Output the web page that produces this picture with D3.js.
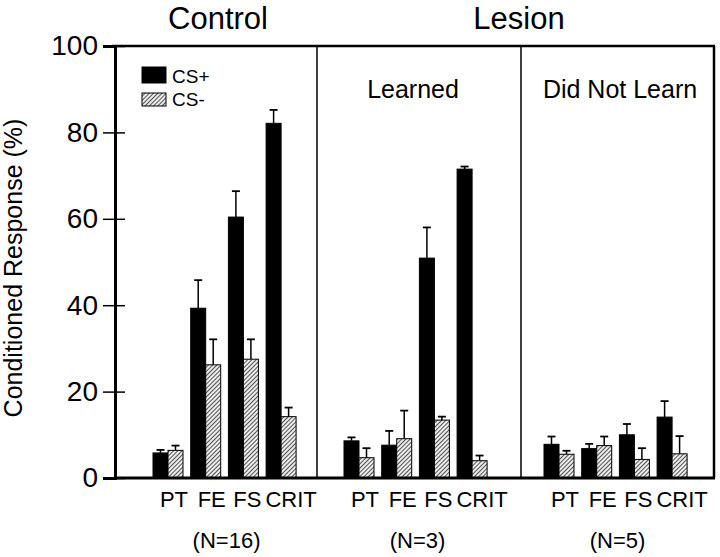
<!DOCTYPE html>
<html>
<head>
<meta charset="utf-8">
<script src="https://cdn.jsdelivr.net/npm/d3@7"></script>
<style>
  html, body { margin: 0; padding: 0; background: #fff; }
  svg { display: block; font-family: "Liberation Sans", Arial, Helvetica, sans-serif; }
</style>
</head>
<body>
<svg id="chart" width="720" height="557"></svg>
<script>
// ---- Data ----
const categories = ["PT", "FE", "FS", "CRIT"];
const seriesNames = ["CS+", "CS-"];
const panelNames = ["Control", "Learned", "Did Not Learn"];
const panelN = ["(N=16)", "(N=3)", "(N=5)"];
const yTicks = [0, 20, 40, 60, 80, 100];

const controlCSplus     = [5.8, 39.3, 60.4, 82.1];
const controlCSplusErr  = [0.7, 6.5, 6.0, 3.1];
const controlCSminus    = [6.4, 26.2, 27.5, 14.2];
const controlCSminusErr = [1.1, 5.9, 4.6, 2.1];

const learnedCSplus     = [8.6, 7.6, 50.9, 71.5];
const learnedCSplusErr  = [0.8, 3.3, 7.1, 0.6];
const learnedCSminus    = [4.7, 9.1, 13.4, 4.0];
const learnedCSminusErr = [2.2, 6.5, 0.8, 1.2];

const dnlCSplus         = [7.8, 6.8, 10.0, 14.1];
const dnlCSplusErr      = [1.8, 1.1, 2.5, 3.7];
const dnlCSminus        = [5.5, 7.5, 4.3, 5.6];
const dnlCSminusErr     = [0.8, 2.1, 2.6, 4.1];

// ---- Layout ----
const frame = { left: 115, right: 714, top: 46, bottom: 478 };
const dividers = [317, 521];
const groupStarts = [153, 344, 544];
const groupStep = 37.7, barW = 15;
const labelNudge = [0, 0, -2, 4];

const svg = d3.select("#chart");
const y = d3.scaleLinear().domain([0, 100]).range([frame.bottom, frame.top]);

// hatch pattern
const defs = svg.append("defs");
const pat = defs.append("pattern").attr("id", "hatch")
  .attr("patternUnits", "userSpaceOnUse").attr("width", 3).attr("height", 3)
  .attr("patternTransform", "rotate(45)");
pat.append("rect").attr("width", 3).attr("height", 3).attr("fill", "#ececec");
pat.append("line").attr("x1", 0).attr("y1", 0).attr("x2", 0).attr("y2", 3)
  .attr("stroke", "#111").attr("stroke-width", 1.4);

const panelData = [
  [controlCSplus, controlCSplusErr, controlCSminus, controlCSminusErr],
  [learnedCSplus, learnedCSplusErr, learnedCSminus, learnedCSminusErr],
  [dnlCSplus, dnlCSplusErr, dnlCSminus, dnlCSminusErr]
];

panelData.forEach((pd, pi) => {
  const start = groupStarts[pi];
  const x = d3.scaleBand().domain(categories)
    .range([start, start + 4 * groupStep - (groupStep - 2 * barW)])
    .paddingInner((groupStep - 2 * barW) / groupStep).paddingOuter(0);
  const xs = d3.scaleBand().domain(seriesNames).range([0, x.bandwidth()]);
  const rows = [];
  categories.forEach((c, i) => {
    rows.push({ c, s: "CS+", v: pd[0][i], e: pd[1][i] });
    rows.push({ c, s: "CS-", v: pd[2][i], e: pd[3][i] });
  });
  const g = svg.append("g");
  // error bars
  rows.forEach(r => {
    const cx = x(r.c) + xs(r.s) + xs.bandwidth() / 2;
    g.append("line").attr("x1", cx).attr("x2", cx)
      .attr("y1", y(r.v)).attr("y2", y(r.v + r.e))
      .attr("stroke", "#000").attr("stroke-width", 1.5);
    g.append("line").attr("x1", cx - 4).attr("x2", cx + 4)
      .attr("y1", y(r.v + r.e)).attr("y2", y(r.v + r.e))
      .attr("stroke", "#000").attr("stroke-width", 1.8);
  });
  g.selectAll("rect.bar").data(rows).enter().append("rect")
    .attr("class", "bar")
    .attr("x", d => x(d.c) + xs(d.s))
    .attr("width", xs.bandwidth())
    .attr("y", d => y(d.v))
    .attr("height", d => y(0) - y(d.v))
    .attr("fill", d => d.s === "CS+" ? "#000" : "url(#hatch)")
    .attr("stroke", "#000").attr("stroke-width", 1);

  // category axis
  const ax = svg.append("g").attr("transform", `translate(6,${frame.bottom})`)
    .call(d3.axisBottom(x).tickSize(0).tickPadding(13));
  ax.select(".domain").remove();
  ax.selectAll("text").attr("font-size", 22).attr("fill", "#000")
    .attr("font-family", "Liberation Sans, Arial, sans-serif")
    .attr("dx", (d, i) => labelNudge[i]);

  // N label
  const [r0, r1] = x.range();
  svg.append("text").attr("x", (r0 + r1) / 2 + 2).attr("y", 548)
    .attr("text-anchor", "middle").attr("font-size", 22).text(panelN[pi]);
});

// frame
svg.append("line").attr("x1", frame.left - 3).attr("x2", frame.right + 1)
  .attr("y1", frame.top).attr("y2", frame.top).attr("stroke", "#000").attr("stroke-width", 2.5);
svg.append("line").attr("x1", frame.right).attr("x2", frame.right)
  .attr("y1", frame.top).attr("y2", frame.bottom).attr("stroke", "#000").attr("stroke-width", 2.5);
svg.append("line").attr("x1", frame.left).attr("x2", frame.right + 1)
  .attr("y1", frame.bottom).attr("y2", frame.bottom).attr("stroke", "#000").attr("stroke-width", 3);
dividers.forEach(dx => {
  svg.append("line").attr("x1", dx).attr("x2", dx)
    .attr("y1", frame.top).attr("y2", frame.bottom).attr("stroke", "#000").attr("stroke-width", 1.5);
});

// y axis
const yAx = svg.append("g").attr("transform", `translate(${frame.left},0)`)
  .call(d3.axisLeft(y).tickValues(yTicks).tickSize(12).tickPadding(5));
yAx.select(".domain").attr("stroke-width", 3);
yAx.selectAll(".tick line").attr("x1", 10).attr("stroke-width", 1.5);
yAx.selectAll("text").attr("font-size", 28).attr("fill", "#000")
  .attr("font-family", "Liberation Sans, Arial, sans-serif");

svg.append("text")
  .attr("transform", "translate(22,268) rotate(-90)")
  .attr("text-anchor", "middle").attr("font-size", 25)
  .text("Conditioned Response (%)");

// titles
svg.append("text").attr("x", 218).attr("y", 29).attr("text-anchor", "middle")
  .attr("font-size", 31).text("Control");
svg.append("text").attr("x", 519).attr("y", 29).attr("text-anchor", "middle")
  .attr("font-size", 31).text("Lesion");
svg.append("text").attr("x", 413).attr("y", 98).attr("text-anchor", "middle")
  .attr("font-size", 25).text("Learned");
svg.append("text").attr("x", 620).attr("y", 98).attr("text-anchor", "middle")
  .attr("font-size", 25).text("Did Not Learn");

// legend
const legend = svg.append("g");
seriesNames.forEach((s, i) => {
  legend.append("rect").attr("x", 142).attr("y", i === 0 ? 67 : 93)
    .attr("width", 24).attr("height", i === 0 ? 16 : 13)
    .attr("fill", i === 0 ? "#000" : "url(#hatch)")
    .attr("stroke", "#000").attr("stroke-width", 1);
  legend.append("text").attr("x", 172).attr("y", i === 0 ? 83 : 106)
    .attr("font-size", 19).text(s);
});
</script>
</body>
</html>
